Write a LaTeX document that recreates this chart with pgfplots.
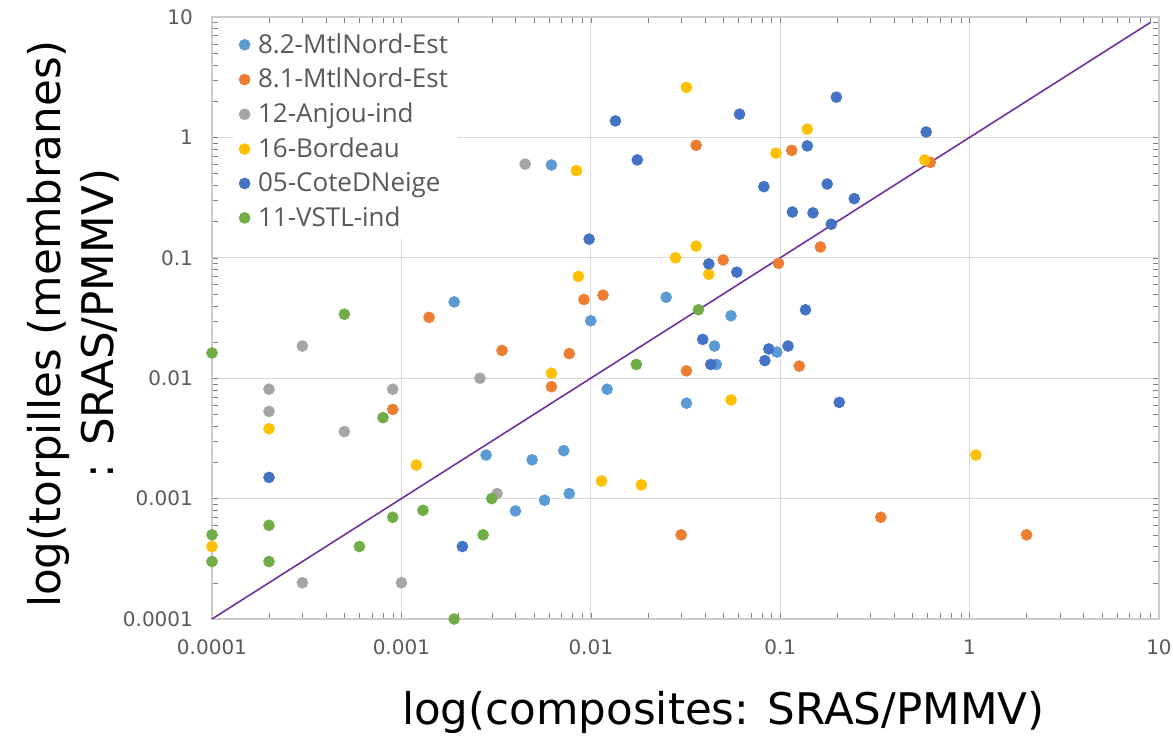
\documentclass[border=0pt]{standalone}
\usepackage{fontspec}
\setmainfont{DejaVu Sans}
\newfontfamily\legfont{Open Sans}
\usepackage{pgfplots}
\pgfplotsset{compat=1.18}
\definecolor{cA}{HTML}{5B9BD5}
\definecolor{cB}{HTML}{ED7D31}
\definecolor{cC}{HTML}{A5A5A5}
\definecolor{cD}{HTML}{FFC000}
\definecolor{cE}{HTML}{4472C4}
\definecolor{cF}{HTML}{70AD47}
\definecolor{cLine}{HTML}{7030A0}
\definecolor{tickgray}{HTML}{595959}
\begin{document}
\begin{tikzpicture}
\path[use as bounding box] (-106pt,-60pt) rectangle (480.5pt,309.5pt);
\begin{axis}[
  at={(0,0)}, anchor=south west,
  scale only axis, width=473.5pt, height=301pt,
  xmode=log, ymode=log,
  xmin=1e-4, xmax=10, ymin=1e-4, ymax=10,
  xtick={1e-4,1e-3,1e-2,1e-1,1,10},
  xticklabels={0.0001,0.001,0.01,0.1,1,10},
  ytick={1e-4,1e-3,1e-2,1e-1,1,10},
  yticklabels={0.0001,0.001,0.01,0.1,1,10},
  minor tick num=0,
  major tick length=0pt,
  grid=major, grid style={draw=gray!30, line width=0.6pt},
  axis line style={draw=gray!40, line width=0.6pt},
  tick label style={font=\fontsize{10}{12}\selectfont, text=tickgray},
  xticklabel style={yshift=-7pt},
  yticklabel style={xshift=-6pt},
  xlabel={log(composites: SRAS/PMMV)},
  ylabel={log(torpilles (membranes)\\: SRAS/PMMV)},
  label style={font=\fontsize{21.8}{26.5}\selectfont},
  xlabel style={at={(axis description cs:0.54,-0.1545)}, anchor=center},
  ylabel style={at={(axis description cs:-0.1468,0.49)}, anchor=center, align=center},
  legend style={at={(rel axis cs:0.022,0.99)}, anchor=north west, draw=none, fill=white,
    font=\legfont\fontsize{13}{15}\selectfont, text=tickgray, row sep=2pt, column sep=2pt, inner sep=3pt},
  legend cell align=left,
  clip=false,
  every axis plot/.append style={only marks, mark=*, mark size=2.7pt},
]
\addplot[color=cA, mark options={draw=none, fill=cA}] coordinates {
(0.0062,0.59) (0.0019,0.043) (0.025,0.047) (0.010,0.030) (0.055,0.033) (0.045,0.0185)
(0.096,0.0165) (0.046,0.013) (0.0122,0.0081) (0.032,0.0062) (0.0028,0.0023) (0.0049,0.0021)
(0.0072,0.0025) (0.0057,0.00097) (0.0077,0.0011) (0.0040,0.00079)};
\addlegendentry{8.2-MtlNord-Est}
\addplot[color=cB, mark options={draw=none, fill=cB}] coordinates {
(0.036,0.86) (0.115,0.78) (0.62,0.62) (0.163,0.123) (0.050,0.096) (0.098,0.090)
(0.0092,0.045) (0.0116,0.049) (0.0014,0.032) (0.0034,0.017) (0.0077,0.016) (0.032,0.0115)
(0.126,0.0126) (0.0062,0.0085) (0.0009,0.0055) (0.030,0.0005) (0.34,0.0007) (2.0,0.0005)};
\addlegendentry{8.1-MtlNord-Est}
\addplot[color=cC, mark options={draw=none, fill=cC}] coordinates {
(0.0045,0.60) (0.0003,0.0185) (0.0026,0.010) (0.0002,0.0081) (0.0009,0.0081) (0.0002,0.0053)
(0.0005,0.0036) (0.0032,0.0011) (0.0003,0.0002) (0.001,0.0002)};
\addlegendentry{12-Anjou-ind}
\addplot[color=cD, mark options={draw=none, fill=cD}] coordinates {
(0.032,2.6) (0.0084,0.53) (0.139,1.17) (0.095,0.74) (0.58,0.65) (0.036,0.125) (0.028,0.10)
(0.042,0.073) (0.0086,0.070) (0.0062,0.011) (0.055,0.0066) (0.0002,0.0038) (0.0012,0.0019)
(0.0114,0.0014) (0.0185,0.0013) (1.08,0.0023) (0.0001,0.0004)};
\addlegendentry{16-Bordeau}
\addplot[color=cE, mark options={draw=none, fill=cE}] coordinates {
(0.0135,1.37) (0.061,1.56) (0.198,2.16) (0.0176,0.65) (0.139,0.85) (0.59,1.11) (0.082,0.39)
(0.177,0.41) (0.246,0.31) (0.116,0.24) (0.149,0.236) (0.186,0.19) (0.0098,0.143) (0.042,0.089)
(0.059,0.076) (0.136,0.037) (0.039,0.021) (0.087,0.0175) (0.11,0.0185) (0.083,0.014)
(0.043,0.013) (0.205,0.0063) (0.0002,0.0015) (0.0021,0.0004)};
\addlegendentry{05-CoteDNeige}
\addplot[color=cF, mark options={draw=none, fill=cF}] coordinates {
(0.0005,0.034) (0.0001,0.0162) (0.0008,0.0047) (0.037,0.037) (0.0174,0.013) (0.003,0.001)
(0.0013,0.0008) (0.0009,0.0007) (0.0002,0.0006) (0.0001,0.0005) (0.0001,0.0003)
(0.0002,0.0003) (0.0006,0.0004) (0.0027,0.0005) (0.0019,0.0001)};
\addlegendentry{11-VSTL-ind}
\addplot[color=cLine, line width=0.8pt, no marks, forget plot, only marks=false, sharp plot] coordinates {(0.0001,0.0001) (9,9)};
\end{axis}
\end{tikzpicture}
\end{document}
